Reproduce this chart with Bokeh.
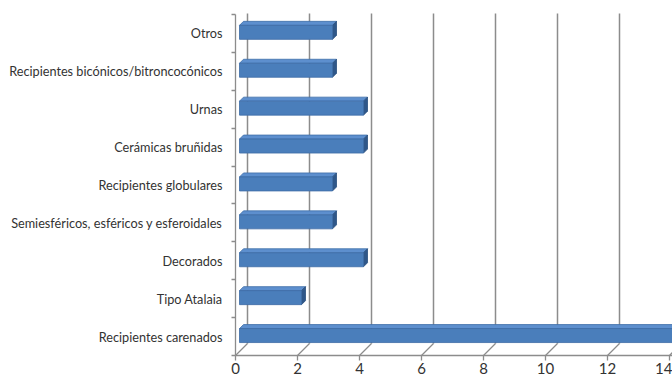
from bokeh.plotting import figure
from bokeh.models import LinearAxis, FixedTicker, Range1d
from bokeh.embed import file_html
from bokeh.resources import INLINE

# data (top to bottom in the picture)
categories = ["Otros", "Recipientes bicónicos/bitroncocónicos", "Urnas",
              "Cerámicas bruñidas", "Recipientes globulares",
              "Semiesféricos, esféricos y esferoidales", "Decorados",
              "Tipo Atalaia", "Recipientes carenados"]
values = [3, 3, 4, 4, 3, 3, 4, 2, 14]
x_ticks = [0, 2, 4, 6, 8, 10, 12, 14]

# layout constants (pixels -> data units)
W, H = 672, 381
PX_X = 31.0
PX_Y = 37.9
X0_PX = 235.0
YB_PX = 355.0
n = len(categories)
# y positions: bottom category at 0
ypos = [n - 1 - i for i in range(n)]

x_start = -X0_PX / PX_X
x_end = (W - X0_PX) / PX_X
y_bottom_val = -0.5
y_start = y_bottom_val - (H - YB_PX) / PX_Y
y_end = y_bottom_val + YB_PX / PX_Y

p = figure(width=W, height=H, output_backend="svg", toolbar_location=None,
           x_range=Range1d(x_start, x_end), y_range=Range1d(y_start, y_end),
           x_axis_type=None, y_axis_type=None, min_border=0,
           min_border_left=0, min_border_right=0, min_border_top=0, min_border_bottom=0)
p.outline_line_color = None
p.grid.visible = False
p.background_fill_color = "white"
p.border_fill_color = "white"

grid_col = "#8c8c8c"
axis_col = "#8c8c8c"
text_col = "#333333"

# depth offsets
wdx = 12 / PX_X
wdy = 12 / PX_Y
bdx = 4 / PX_X
bdy = 4 / PX_Y
top_grid = n - 0.5 + 1 / PX_Y

# back-wall gridlines and floor diagonals
p.segment(x0=[t + wdx for t in x_ticks], y0=[y_bottom_val + wdy] * len(x_ticks),
          x1=[t + wdx for t in x_ticks], y1=[top_grid] * len(x_ticks),
          line_color=grid_col, line_width=1.5)
p.segment(x0=x_ticks, y0=[y_bottom_val] * len(x_ticks),
          x1=[t + wdx for t in x_ticks], y1=[y_bottom_val + wdy] * len(x_ticks),
          line_color=grid_col, line_width=1.3)

# bars (3D)
ftop = 8 / PX_Y
fbot = -6 / PX_Y
front_l = [bdx] * n
front_r = [v + bdx for v in values]
front_t = [y + ftop for y in ypos]
front_b = [y + fbot for y in ypos]

top_xs, top_ys, side_xs, side_ys = [], [], [], []
for xl, xr, yt, yb in zip(front_l, front_r, front_t, front_b):
    top_xs.append([xl, xr, xr + bdx, xl + bdx])
    top_ys.append([yt, yt, yt + bdy, yt + bdy])
    side_xs.append([xr, xr, xr + bdx, xr + bdx])
    side_ys.append([yb, yt, yt + bdy, yb + bdy])

p.patches(top_xs, top_ys, fill_color="#5d8fce", line_color="#3f6ea8", line_width=0.8)
p.patches(side_xs, side_ys, fill_color="#2f5789", line_color="#2a4f7d", line_width=0.8)
p.quad(left=front_l, right=front_r, top=front_t, bottom=front_b,
       fill_color="#4a7ebb", line_color="#3d6ca6", line_width=0.8)

# y axis (front, left)
yax = LinearAxis(fixed_location=0, bounds=(-0.5, n - 0.5))
yax.ticker = FixedTicker(ticks=ypos, minor_ticks=[i - 0.5 for i in range(n + 1)])
yax.major_label_overrides = {y: c for y, c in zip(ypos, categories)}
yax.major_tick_line_color = None
yax.major_tick_out = 0
yax.major_tick_in = 0
yax.minor_tick_out = 4
yax.minor_tick_in = 0
yax.minor_tick_line_color = axis_col
yax.minor_tick_line_width = 1.3
yax.axis_line_color = axis_col
yax.axis_line_width = 1.3
yax.major_label_standoff = 9
yax.major_label_text_font = "Lato"
yax.major_label_text_font_size = "12.7px"
yax.major_label_text_color = text_col
p.add_layout(yax, "left")

# x axis (front, bottom)
xax = LinearAxis(fixed_location=y_bottom_val, bounds=(0, x_end))
xax.ticker = FixedTicker(ticks=x_ticks, minor_ticks=[])
xax.major_tick_out = 5
xax.major_tick_in = 0
xax.major_tick_line_color = axis_col
xax.major_tick_line_width = 1.3
xax.axis_line_color = axis_col
xax.axis_line_width = 1.3
xax.major_label_standoff = 2
xax.major_label_text_font = "Lato"
xax.major_label_text_font_size = "15px"
xax.major_label_text_color = text_col
p.add_layout(xax, "below")

open("out.html", "w").write(file_html(p, INLINE))
